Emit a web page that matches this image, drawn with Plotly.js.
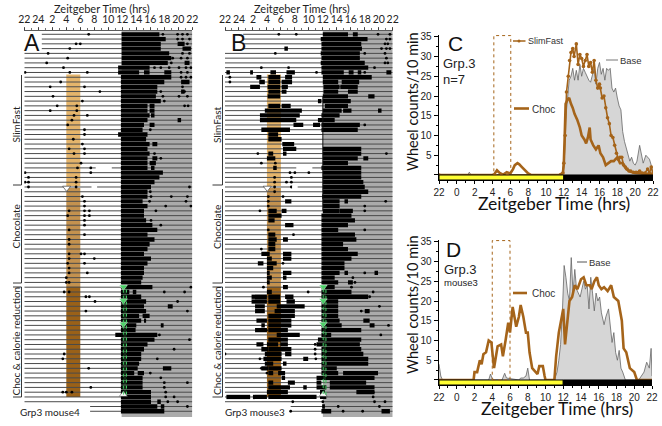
<!DOCTYPE html>
<html><head><meta charset="utf-8">
<script src="https://cdn.plot.ly/plotly-3.0.1.min.js"></script>
<style>html,body{margin:0;padding:0;background:#fff}#g{width:662px;height:426px}</style>
</head><body><div id="g"></div>
<script>
// ---------- Actogram A: per-row activity bouts [start,end,start,end...] and isolated dots (ZT hours; ZT22 before dawn = -2)
const blocksA = [
[11.9,17.3],[11.9,18.2],[11.9,17.5,19.9,20.9],[11.9,17.5,20.6,21.8],[11.9,18.7],[11.9,19],[11.9,18.5,20.9,21.6],[11.4,15.9],[11.4,14.4,15.1,15.9,18,19],[11.8,19],
[11.8,18,20.4,21.6],[11.8,17],[11.8,17,20.4,20.9],[11.8,16.8],[11.8,17.5],[11.8,15.6,15.9,16.6],[11.8,15.6,15.9,16.6],[11.8,15.9,16.1,16.6],[11.8,15.6,19.9,20.4],[11.8,15.1,15.9,16.6],
[11.8,14.9],[11.4,15.6],[11.8,15.4],[11.8,15.9,16.3,17],[11.8,15.6],[11.8,15.9],[11.8,15.6,16.3,17],[11.8,15.6,15.9,16.8],[11.8,15.6,16.1,16.6],[11.8,17.8],
[11.8,17.3],[11.8,16.6],[11.8,16.1],[11.8,15.6],[11.8,15.6],[11.8,14.9],[11.8,15.6],[11.8,15.1],[11.8,15.1],[11.8,15.4],
[11.8,16.3],[11.8,17],[11.8,15.6],[11.8,16.6],[11.8,15.9],[11.8,15.6],[11.8,15.1],[11.8,16.1],[11.8,15.6],[11.8,15.1],
[11.8,15.1],[11.8,14.9],[11.8,14.7],[11.8,16.3],[11.8,13,13.5,14],[11.8,14.7],[11.8,15.4],[11.8,15.1,18.5,19.2],[11.8,15.4],[11.8,14.4,14.9,15.9],
[11.8,14.7,15.1,15.4],[11.8,14,17.5,17.9],[11.8,13.9],[11.0,17],[11.8,16.6],[11.8,15.6],[11.8,15.1],[11.8,14.7],[11.8,14.7],[11.8,14.4],
[11.8,14.2,17.8,19],[11.8,13.7,14.2,15.1],[11.8,14.9],[11.8,14.9],[11.8,14.9],[11.8,16.1],[11.8,16.1],[11.8,16.1,17,17.5],[11.8,17,17.5,18],[11.8,18]
];
const dotsA = [
[7.2,17.8,19.9,20.6,21.3],[19.9,20.6,21.6],[5.4,6,21.3],[4.5],[1.4,20.6,21.6],[4.2,19.2,20.4,21.3],[1.2,19],[3.6,16.6,17.5,18.7,20.1,21.1,21.8],[-1.9,4.5,7,20.4,21.3],[20.4,21.1,21.8],
[3.2],[1.7,6.6,20.6],[8.8,17.5,20.9],[2.1,17.8,20.1,21.3],[6.3,18],[2.7,5.5,20.9,21.4],[1.7,5.5],[5.1,7],[4.8],[4.2],
[6.6,16],[6.6],[5],[6.3],[4.4,6.6],[5.1,6.6,16.6],[17.5],[6.1],[5.6,7.5],[-1.9,7.5],
[-1.4,5.4],[-1.9,-1.4,5.4],[-1.4,5.4,21.6],[16],[6.3,16.1,19,21.3],[6.6,15.9,21.1],[6.6,18.2,21.8],[4.4,6.6,7.3,16.8],[4.2,6.6,7.3],[6.6,16.1],
[6.6,17.5],[4.4],[6.6],[4.4],[4.4],[],[4.4,6.1,6.6],[4.4,8],[4.2,6.6],[4.4],
[4.4,7],[4],[4,4.4],[21.8],[3.7,4.4,18,20.9],[6.8,7.3],[8.1,19.9],[],[6.8,21.3],[],
[],[],[],[17.3],[21.6],[],[19.4],[3.7],[3.5,17],[],
[7.2],[16],[17.5],[18,21.3],[7.5,18],[3.5,4,4.8,18.2],[18.2,19.4],[18.5,19.9],[21.3],[]
];
// ---------- Actogram B
const blocksB = [
[12,15.6,16.3,17],[11.7,18.4],[11.8,17.5],[6.5,7,11.8,17.6],[11.7,17.3],[11.8,17.3],[11.7,18],[11.8,18.5],[-1.8,-1.3,1.6,2,4.5,5.3,6.8,8,11.8,15,15.7,16.4,17,17.5,21.1,21.8],[2.5,3.2,4.2,5.9,6.6,7.6,12,19],
[2.9,3.7,4.2,5.9,6.1,7.6,12,14.2,14.7,17.2],[1.6,3,4.1,5.9,6.1,7,12.1,14.4,14.5,17],[4.2,5.9,6.1,6.8,12.1,14.2,15.6,17],[4.1,5.9,12,15.6,18.5,19.4],[11.3,11.8,12,16],[4.2,5.9,6.1,7.4,12.3,15.6],[3.7,9,12,14.7,14.9,16.1,19.9,20.4],[3,8.7,11.8,14.4],[3,8.2,11.3,13.7],[7.8,9.2,10.6,11.6,11.8,17.3],
[3.2,7.3,11.8,17],[4.2,5.6],[4.2,6.1],[6.2,7.9],[6.3,8.2,12,17.5],[4.2,4.9,6.3,6.8,12,17.5],[4,5.2,12,17,17.8,18.5],[12,15.6],[4.9,5.4,11.8,17.5],[12,17.5],
[12,17.5],[12,17.8],[12,18],[12,18.5],[11.9,17.5],[6.6,7.5,12,14.4,15.1,15.6],[12,14.4],[4.2,5.4,6.1,6.8,12,14.4,14.4,16.3],[4.2,6.1,11.8,16.1],[4.2,5.1,11.8,16.6],
[6.6,7.8,11.8,15.6],[11.8,14.2],[4.2,5.2,11.8,16.6],[4.2,5.4,6.3,7,11.8,16.8],[4.2,5.2,11.8,14.9],[4.2,5.2,11.8,15.6],[3.2,4.4,6.3,7.5,11.8,17],[4,4.7,6.3,7.5,11.8,16.1],[2.7,3.5,4,5.4,11.8,15.1],[4,4.9,11.8,15.1],
[4,4.4,6.3,7.5,11.8,14.4,15.1,15.6,19.4,19.9],[4,4.7,6.3,6.8,11.8,13.7],[4,4.4,11.8,14.2,15.6,16.3],[6.3,7,11.8,13.7],[4,4.7,11.8,16.1],[1.8,4,4.2,5.9,6.6,7.8,11.8,18.5],[1.8,4,4.2,5.9,6.8,8,11.8,14.2],[2.3,3.7,5.4,9.4,11.8,14.2],[2.3,3.7,5.1,8,11.8,14.2,18,18.7],[4.2,8,11.8,14.2],
[2.5,4,4.2,7.5,11.8,14.4,17.8,18.7],[3.2,3.7,4.2,7.5,11.8,14.7,18.7,19.4],[2.3,4,4.2,7,11.8,17.5],[5.4,8.7,11.8,13.2],[4.2,7,11.3,17.5],[2.5,3.5,4,5.6,5.9,7,11.1,17.3],[3.2,4.2,4.2,7.5,11.8,17.5],[3.7,6.1,6.6,7.5,11.8,17.8],[3.5,6.1,9.2,9.9,11.8,18.5],[3.7,4.9,6.3,6.8,11.8,18.5],
[3.2,4.2,4.2,6.1,11.8,14],[4.2,4.9,5.6,6.6,11.8,14.2,14.9,19.9],[6.1,6.6,11.1,19.4],[4.2,4.9,7,8,11.1,11.8,13,18.2],[4.2,7.3,9.2,9.7,11.1,12.5,13,19.4],[4,7,11.6,12.3,16.8,19.4],[-1.8,1.6,2,4,4.2,11.1,11.6,12.5],[],[11.9,12.3],[11.8,13.2,20.4,21.6]
];
const dotsB = [
[5.7,8.2,19.9,21.6],[21.1,21.6],[20.9,21.3],[21.1,21.6,20.4],[5.2,18,20.9],[21.1],[20.9,21.3],[3.2,7.1,19.4],[11.1,18],[-1.3],
[-1.3],[],[],[],[],[],[],[],[],[18],
[],[],[],[],[],[2.7,21.1],[],[3.2,5.2],[],[7.3,8,10],
[5.1,7.5],[5.1,6.8,7.5],[5.1,7.5],[5.1],[4.2,6.3],[4.2,21],[4.2,18],[3,18],[],[],
[],[4.2,18],[7.8],[],[],[3.2],[],[],[6.3],[],
[18],[16.3],[16.6],[3.5,16.1],[9.9,19.2],[18.7],[],[20.1],[17.5],[],
[],[21.4],[3.9],[20.3],[],[10.9],[10.9],[-2,10.9],[3,11],[],
[3.2],[4],[],[],[],[19.2],[19.2],[7.7,12,19.4,20.9],[14.2,20.1],[7.4,14.9,17.7]
];
// ---------- Panel C
const cBaseX = [-2,1.2,1.4,1.6,11.8,12,12.2,12.4,12.6,12.8,13,13.2,13.4,13.6,13.8,14,14.2,14.4,14.6,14.8,15,15.2,15.4,15.6,15.8,16,16.2,16.4,16.6,16.8,17,17.2,17.4,17.6,17.8,18,18.2,18.4,18.6,18.8,19,19.2,19.4,19.6,19.8,20,20.2,20.5,20.7,20.9,21.2,21.4,21.6,21.8,22];
const cBaseY = [0,0,0.7,0,0,3,14,20,24,25,27,24,26.5,24,28,25,27,26,25,24,23.5,25,27,23,27,28.5,25.5,27,24,27,26.5,27,22,21,22,19.5,17.5,16.5,11,8.5,7,5.5,3.5,4.5,3,2.5,3.5,7.5,5.5,3,5,4.5,4,2.5,0.5];
const cSlimX = [-2,11.6,11.9,12,12.15,12.3,12.5,12.65,12.8,13,13.15,13.4,13.6,13.8,14,14.2,14.4,14.6,14.8,15,15.2,15.4,15.6,15.8,16,16.1,16.3,16.5,16.7,16.9,17.1,17.3,17.5,17.7,17.9,18.1,18.3,18.5,18.7,18.9,19.1,19.3,19.5,19.8,20.1,20.5,20.8,21.1,21.4,21.6,21.8,22];
const cSlimY = [0,0,0.5,3,10,21,25,29,31,32,30,33.2,28,30.5,29.5,27.5,29,30.5,27.5,28.5,26,29,24,22,23,22,19.5,20,17,14.5,13,10,9.5,7.5,5.5,4,4.5,4.5,2.5,2,1.5,1,1,0.7,0.7,1,0.5,0.5,1.5,0.5,2,0.3];
const cChocX = [-2,4,4.2,4.5,4.8,5.2,5.6,6,6.3,6.5,6.8,7,7.3,7.6,8,8.3,11.5,11.9,12,12.1,12.2,12.4,12.6,12.8,13,13.2,13.5,13.8,14,14.3,14.5,14.7,14.9,15,15.3,15.6,15.9,16.1,16.4,16.7,17,17.3,17.6,18,18.3,18.6,19,19.5,20,21,22];
const cChocY = [0,0,0.2,1.2,0.5,0.1,0.7,0.4,1.5,2.5,3,2.7,2,1.2,0.4,0,0,0.5,3,10,18,19,19.5,18,17,15.5,14,12,10,9,8,9.5,12,9,7.5,6.5,7.5,5.5,4.5,2.5,3,3.5,3.5,4.5,3,3,1.5,0.8,0.5,0.3,0.3];
// ---------- Panel D
const dBaseX = [-2,-1.8,-1.6,3.6,3.8,4,4.3,5.1,5.4,5.6,7,7.2,7.5,7.8,8,8.2,11,11.3,11.5,11.7,11.9,12.1,12.3,12.5,12.7,12.9,13.1,13.3,13.5,13.7,13.9,14.1,14.3,14.5,14.7,14.9,15.1,15.3,15.5,15.7,15.9,16.1,16.3,16.6,16.8,17.1,17.3,17.5,17.7,17.9,18.1,18.3,18.5,18.7,19,20.5,20.8,21.1,21.4,21.7,21.9,22];
const dBaseY = [4,1,0,0,1.5,0.3,0,0,1.7,0.5,0,0.5,0.5,1,3,0,0,2,5,9,17,29,26,22,20,31,22,28,23,22,21,23,25,23,24,18,26,22,17.5,22,20,21,17,14,16,18,14,9.5,12,7,5,7.5,3,2,0,0,1,2,4.5,3,8,1];
const dChocX = [-2,1.9,2,2.3,2.6,2.8,3,3.3,3.6,3.9,4.2,4.4,4.6,5,5.2,5.5,5.8,6,6.3,6.5,6.7,7,7.2,7.5,7.8,8,8.2,8.5,8.9,9.1,9.3,9.7,9.9,10,11,11.2,11.5,11.8,12,12.2,12.5,12.7,13,13.3,13.6,14,14.3,14.6,15,15.2,15.5,15.8,16,16.3,16.6,17,17.4,17.7,18.2,18.4,18.6,18.8,19.1,19.5,20,20.3,22];
const dChocY = [0,0,2,2,5,4,6.5,7,10,9.5,3,5.5,8.5,9,6,10,14.5,12,18.5,16,13.5,16,19,16,12,12,7,3,2,1.5,3.5,3.5,1,0,0,6,12,16,18,9,15,20,21,24,23,25.5,26,24,24,23,25,26,24,23,23.5,22.5,24,21,20,17,15,8,7,3,2,0,0];
const zt = [-2,0,2,4,6,8,10,12,14,16,18,20,22];
const topLabels = ['22','24','2','4','6','8','10','12','14','16','18','20','22'];
const cdLabels = ['22','0','2','4','6','8','10','12','14','16','18','20','22'];
const wheelTicks = [0,5,10,15,20,25,30,35];
const wheelLabels = ['','5','10','15','20','25','30','35'];

const W=662,H=426, BROWN='#A5641A';
const px=x=>x/W, py=y=>1-y/H;
const rowCount = 80;
function rowLines(leadStart){
  const x=[],y=[];
  for(let i=0;i<rowCount;i++){ const s = i<4?leadStart:(i>=78?7.4:-2); x.push(s,22,null); y.push(i,i,null);}
  return {x,y};
}
function segs(rows){
  const x=[],y=[];
  rows.forEach((r,i)=>{for(let k=0;k+1<r.length;k+=2){x.push(r[k],r[k+1],null);y.push(i,i,null);}});
  return {x,y};
}
function pts(rows){
  const x=[],y=[];
  rows.forEach((r,i)=>r.forEach(v=>{x.push(v);y.push(i);}));
  return {x,y};
}
const traces=[];
function acto(blocks,dots,lead,xa,ya,greenX){
  const L=rowLines(lead), S=segs(blocks), P=pts(dots);
  traces.push({x:L.x,y:L.y,xaxis:xa,yaxis:ya,mode:'lines',line:{color:'#4a4a4a',width:1},hoverinfo:'skip'});
  traces.push({x:S.x,y:S.y,xaxis:xa,yaxis:ya,mode:'lines',line:{color:'#000',width:4.3},hoverinfo:'skip'});
  traces.push({x:P.x,y:P.y,xaxis:xa,yaxis:ya,mode:'markers',marker:{color:'#000',size:2.8},hoverinfo:'skip'});
  traces.push({x:[greenX,greenX,greenX],y:[52.9,55.8,60.7],xaxis:xa,yaxis:ya,mode:'markers',marker:{symbol:'triangle-down',size:7,color:'#4fd36a',line:{color:'#fff',width:0.5}},hoverinfo:'skip'});
  traces.push({x:[greenX],y:[75.5],xaxis:xa,yaxis:ya,mode:'markers',marker:{symbol:'triangle-up',size:7,color:'#fff',line:{color:'#444',width:0.5}},hoverinfo:'skip'});
  traces.push({x:[4.05],y:[32.2],xaxis:xa,yaxis:ya,mode:'markers',marker:{symbol:'triangle-down',size:7,color:'#fff',line:{color:'#444',width:0.7}},hoverinfo:'skip'});
}
acto(blocksA,dotsA,0.5,'x','y',12.15);
acto(blocksB,dotsB,0.6,'x2','y2',12.05);

// Panel C
traces.push({x:cBaseX,y:cBaseY,xaxis:'x3',yaxis:'y3',mode:'lines',fill:'tozeroy',fillcolor:'#D6D6D6',line:{color:'#666',width:0.8},hoverinfo:'skip'});
traces.push({x:cChocX,y:cChocY,xaxis:'x3',yaxis:'y3',mode:'lines',line:{color:BROWN,width:2.6},hoverinfo:'skip'});
traces.push({x:cSlimX,y:cSlimY,xaxis:'x3',yaxis:'y3',mode:'lines+markers',line:{color:BROWN,width:1.6},marker:{color:BROWN,size:3.6},hoverinfo:'skip'});
// Panel D
traces.push({x:dBaseX,y:dBaseY,xaxis:'x4',yaxis:'y4',mode:'lines',fill:'tozeroy',fillcolor:'#D6D6D6',line:{color:'#666',width:0.8},hoverinfo:'skip'});
traces.push({x:dChocX,y:dChocY,xaxis:'x4',yaxis:'y4',mode:'lines',line:{color:BROWN,width:2.6},hoverinfo:'skip'});

function actoXAxis(domain,anchor){
  return {domain,range:[-2,22],side:'top',anchor,tickvals:zt,ticktext:topLabels,tickangle:0,ticks:'outside',ticklen:3,tickwidth:0.8,tickcolor:'#333',
    showline:true,linecolor:'#333',linewidth:0.8,showgrid:false,zeroline:false,tickfont:{family:'Lato',size:10.5,color:'#222'},
    minor:{dtick:1,ticks:'outside',ticklen:2,tickcolor:'#333',tickwidth:0.7,showgrid:false}};
}
function actoYAxis(top,bottom,anchor){
  return {domain:[py(bottom),py(top)],range:[80.2,-0.69],anchor,visible:false,showgrid:false,zeroline:false};
}
function wheelXAxis(domain,anchor){
  return {domain,range:[-2,22],anchor,tickvals:zt,ticktext:cdLabels,tickangle:0,ticks:'outside',ticklen:3,tickwidth:1,tickcolor:'#000',
    showline:true,linecolor:'#000',linewidth:1,showgrid:false,zeroline:false,tickfont:{family:'Liberation Sans',size:10,color:'#222'},
    minor:{dtick:1,ticks:'outside',ticklen:2,tickcolor:'#000',showgrid:false}};
}
function wheelYAxis(top,bottom,anchor){
  return {domain:[py(bottom),py(top)],range:[-1.27,35.5],anchor,tickvals:wheelTicks,ticktext:wheelLabels,ticks:'outside',ticklen:4,tickwidth:1,tickcolor:'#000',
    showline:true,linecolor:'#000',linewidth:1.5,showgrid:false,zeroline:false,tickfont:{family:'Liberation Sans',size:10,color:'#222'},
    minor:{dtick:2.5,ticks:'outside',ticklen:2,tickcolor:'#000',showgrid:false}};
}
const shapes=[];
function rect(xa,ya,x0,x1,y0,y1,fill,line,layer){
  shapes.push({type:'rect',xref:xa,yref:ya,x0,x1,y0,y1,fillcolor:fill,line:line||{width:0},layer:layer||'below'});
}
[['x','y',11.9,12.15,12.6],['x2','y2',12,12.05,12.45]].forEach(([xa,ya,g,g0,g1])=>{
  rect(xa,ya,g,22,-0.69,80.2,'#ABABAB');
  rect(xa,ya,4,6,8.4,31.8,'#E5B56C');
  rect(xa,ya,4,6,32.2,52.8,'#C4924F');
  rect(xa,ya,4,6,52.8,76,'#9A6118');
  rect(xa,ya,g0,g1,52.9,75.5,'rgba(90,210,110,0.2)',{color:'#3fc860',width:1,dash:'dot'},'above');
});
shapes.push({type:'line',xref:'x2',yref:'y2',x0:12,x1:12,y0:13,y1:37,line:{color:'#111',width:1},layer:'above'});
// white breaks in the row lines
[['x','y'],['x2','y2']].forEach(([xa,ya])=>{
  shapes.push({type:'line',xref:xa,yref:ya,x0:8.2,x1:10.5,y0:28,y1:28,line:{color:'#fff',width:3},layer:'above'});
  shapes.push({type:'line',xref:xa,yref:ya,x0:7.6,x1:8.4,y0:32,y1:32,line:{color:'#fff',width:3},layer:'above'});
});
// brackets
function bracket(x,x2,t,b,endTop,endBot){
  const pl={color:'#222',width:0.9};
  shapes.push({type:'line',xref:'paper',yref:'paper',x0:px(x),x1:px(x),y0:py(t),y1:py(b),line:pl});
  if(endTop) shapes.push({type:'line',xref:'paper',yref:'paper',x0:px(x2),x1:px(x),y0:py(t),y1:py(t),line:pl});
  if(endBot) shapes.push({type:'line',xref:'paper',yref:'paper',x0:px(x2),x1:px(x),y0:py(b),y1:py(b),line:pl});
}
[[21.5,13],[222.5,212.5]].forEach(([a,b])=>{
  bracket(a,b,75,185,false,true);
  bracket(a,b,189,283,false,true);
  bracket(a,b,287,397,true,true);
});
// light/dark bars and dotted windows
[['x3','y3'],['x4','y4']].forEach(([xa,ya])=>{
  shapes.push({type:'rect',xref:xa,yref:ya,x0:-2,x1:12,y0:-1.27,y1:0,fillcolor:'#FFFF33',line:{color:'#000',width:1},layer:'above'});
  shapes.push({type:'rect',xref:xa,yref:ya,x0:12,x1:22,y0:-1.27,y1:0,fillcolor:'#000',line:{color:'#000',width:1},layer:'above'});
});
rect('x3','y3',4.15,6.05,0,35.3,'rgba(0,0,0,0)',{color:BROWN,width:1,dash:'dot'},'above');
rect('x4','y4',4.0,6.0,0,35.3,'rgba(0,0,0,0)',{color:BROWN,width:1,dash:'dot'},'above');
// legend keys
const key=(x0,x1,y,color,w)=>shapes.push({type:'line',xref:'paper',yref:'paper',x0:px(x0),x1:px(x1),y0:py(y),y1:py(y),line:{color,width:w}});
key(513,525.5,41,BROWN,1.5);
shapes.push({type:'circle',xref:'paper',yref:'paper',x0:px(517.5),x1:px(520.5),y0:py(42.5),y1:py(39.5),fillcolor:BROWN,line:{width:0}});
key(606,618,60,'#777',1);
key(514,529,108.5,BROWN,2.6);
key(513,527,293,BROWN,2.6);
key(577,587,262,'#555',1);

const ann=[];
function note(text,x,y,size,opts){
  ann.push(Object.assign({text,xref:'paper',yref:'paper',x:px(x),y:py(y),showarrow:false,xanchor:'center',yanchor:'middle',
    font:{family:'Lato',size,color:'#222'}},opts||{}));
}
const sans=(size,color)=>({font:{family:'Liberation Sans',size,color:color||'#222'}});
note('Zeitgeber Time (hrs)',102,9,11);
note('Zeitgeber Time (hrs)',302,9,11);
note('A',32,43,23,sans(23,'#111'));
note('B',238,43,23,sans(23,'#111'));
note('C',455,43,21,sans(21,'#111'));
note('D',454,249,21,sans(21,'#111'));
[15.5,217].forEach(a=>{
  note('SlimFast',a,125,10,{textangle:-90});
  note('Chocolate',a,227,10,{textangle:-90});
  note('Choc & calorie reduction',a,341,10,{textangle:-90});
});
note('Grp3 mouse4',50,412,10,{bgcolor:'#fff'});
note('Grp3 mouse3',255,412,10,{bgcolor:'#fff'});
note('Wheel counts/10 min',412,102,14.5,{textangle:-90,font:{family:'Lato',size:14.5,color:'#111'}});
note('Wheel counts/10 min',412,305,14.5,{textangle:-90,font:{family:'Lato',size:14.5,color:'#111'}});
note('Grp.3',459,63,13,sans(13));
note('n=7',453.5,79,13,sans(13));
note('Grp.3',460,269,13,sans(13));
note('mouse3',461,282,9.5,sans(9.5));
note('SlimFast',546,41,9,sans(9,'#333'));
note('Base',631,60,9.5,sans(9.5,'#333'));
note('Choc',543.5,109,10,sans(10,'#333'));
note('Base',600,262,9.5,sans(9.5,'#333'));
note('Choc',543,293,10,sans(10,'#333'));
note('Zeitgeber Time (hrs)',554,203,17.5,{font:{family:'Lato',size:17.5,color:'#111'}});
note('Zeitgeber Time (hrs)',557,408,17.5,{font:{family:'Lato',size:17.5,color:'#111'}});

const layout={
  width:W,height:H,margin:{l:0,r:0,t:0,b:0},paper_bgcolor:'#fff',plot_bgcolor:'rgba(0,0,0,0)',showlegend:false,
  xaxis:actoXAxis([px(24.3),px(192.3)],'y'),yaxis:actoYAxis(31,417,'x'),
  xaxis2:actoXAxis([px(225),px(392.7)],'y2'),yaxis2:actoYAxis(31,417,'x2'),
  xaxis3:wheelXAxis([px(439),px(653)],'y3'),yaxis3:wheelYAxis(34.8,180,'x3'),
  xaxis4:wheelXAxis([px(439),px(652)],'y4'),yaxis4:wheelYAxis(239.8,385,'x4'),
  shapes,annotations:ann
};
Plotly.newPlot('g',traces,layout,{displayModeBar:false,staticPlot:true});
</script></body></html>
